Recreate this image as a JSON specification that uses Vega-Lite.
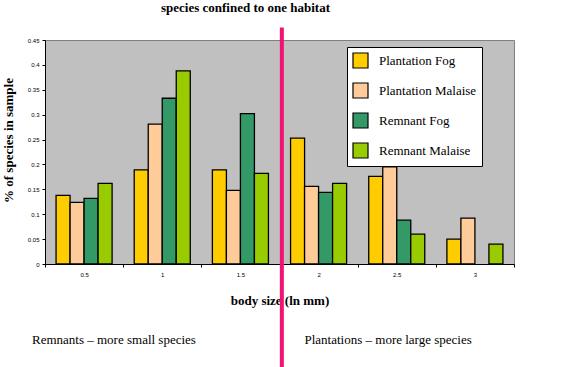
{
  "$schema": "https://vega.github.io/schema/vega-lite/v6.json",
  "width": 469,
  "height": 224,
  "autosize": {"type": "none"},
  "padding": {"left": 45, "top": 40, "right": 74, "bottom": 103},
  "background": "white",
  "title": {
    "text": "species confined to one habitat",
    "font": "Liberation Serif",
    "fontSize": 13,
    "fontWeight": "bold",
    "color": "black",
    "anchor": "middle",
    "frame": "group",
    "dx": -34,
    "offset": 11
  },
  "config": {
    "view": {"fill": "#c0c0c0", "stroke": "#808080", "strokeWidth": 1},
    "axis": {"domainColor": "black", "tickColor": "black", "grid": false, "labelColor": "black", "titleColor": "black", "labelOverlap": false},
    "axisY": {
      "values": [0, 0.05, 0.1, 0.15, 0.2, 0.25, 0.3, 0.35, 0.4, 0.45],
      "tickCount": 12,
      "format": "~g", "tickSize": 3, "labelPadding": 3, "labelOverlap": false,
      "labelFont": "Liberation Sans", "labelFontSize": 6,
      "titleFont": "Liberation Serif", "titleFontSize": 13, "titleFontWeight": "bold",
      "titleAngle": -90, "titleBaseline": "middle", "titleAlign": "center",
      "titleX": -37, "titleY": 100
    },
    "axisX": {
      "labelAngle": 0, "tickBand": "extent", "tickSize": 3, "labelPadding": 4,
      "labelFont": "Liberation Sans", "labelFontSize": 6,
      "titleFont": "Liberation Serif", "titleFontSize": 13, "titleFontWeight": "bold",
      "titleBaseline": "middle", "titleY": 36
    },
    "legend": {
      "orient": "none",
      "legendX": 302,
      "legendY": 7,
      "fillColor": "white",
      "strokeColor": "black",
      "padding": 5,
      "symbolType": "square",
      "symbolSize": 225,
      "symbolStrokeColor": "black",
      "symbolStrokeWidth": 1.2,
      "labelFont": "Liberation Serif",
      "labelFontSize": 13,
      "labelColor": "black",
      "labelOffset": 10,
      "rowPadding": 9
    }
  },
  "layer": [
    {
      "data": {"values": [
        {"size": "0.5", "series": "Plantation Fog", "value": 0.138},
        {"size": "0.5", "series": "Plantation Malaise", "value": 0.124},
        {"size": "0.5", "series": "Remnant Fog", "value": 0.132},
        {"size": "0.5", "series": "Remnant Malaise", "value": 0.162},
        {"size": "1", "series": "Plantation Fog", "value": 0.189},
        {"size": "1", "series": "Plantation Malaise", "value": 0.281},
        {"size": "1", "series": "Remnant Fog", "value": 0.333},
        {"size": "1", "series": "Remnant Malaise", "value": 0.388},
        {"size": "1.5", "series": "Plantation Fog", "value": 0.189},
        {"size": "1.5", "series": "Plantation Malaise", "value": 0.148},
        {"size": "1.5", "series": "Remnant Fog", "value": 0.302},
        {"size": "1.5", "series": "Remnant Malaise", "value": 0.182},
        {"size": "2", "series": "Plantation Fog", "value": 0.253},
        {"size": "2", "series": "Plantation Malaise", "value": 0.156},
        {"size": "2", "series": "Remnant Fog", "value": 0.144},
        {"size": "2", "series": "Remnant Malaise", "value": 0.162},
        {"size": "2.5", "series": "Plantation Fog", "value": 0.176},
        {"size": "2.5", "series": "Plantation Malaise", "value": 0.195},
        {"size": "2.5", "series": "Remnant Fog", "value": 0.088},
        {"size": "2.5", "series": "Remnant Malaise", "value": 0.060},
        {"size": "3", "series": "Plantation Fog", "value": 0.050},
        {"size": "3", "series": "Plantation Malaise", "value": 0.092},
        {"size": "3", "series": "Remnant Malaise", "value": 0.040}
      ]},
      "mark": {"type": "bar", "stroke": "black", "strokeWidth": 1.3},
      "encoding": {
        "x": {
          "field": "size", "type": "nominal", "title": "body size (ln mm)",
          "scale": {"domain": ["0.5", "1", "1.5", "2", "2.5", "3"], "paddingInner": 0, "paddingOuter": 0}
        },
        "xOffset": {
          "field": "series", "type": "nominal",
          "scale": {"paddingInner": 0, "paddingOuter": 0.79}
        },
        "y": {
          "field": "value", "type": "quantitative", "title": "% of species in sample",
          "scale": {"domain": [0, 0.45], "nice": false, "zero": true},
          "axis": {"tickCount": 12, "values": [0, 0.05, 0.1, 0.15, 0.2, 0.25, 0.3, 0.35, 0.4, 0.45], "labelOverlap": false}
        },
        "color": {
          "field": "series", "type": "nominal", "title": null,
          "scale": {
            "domain": ["Plantation Fog", "Plantation Malaise", "Remnant Fog", "Remnant Malaise"],
            "range": ["#ffcc00", "#ffcc99", "#339966", "#99cc00"]
          }
        }
      }
    },
    {
      "data": {"values": [{"size": "2", "top": 0.475, "bottom": -0.21}]},
      "mark": {"type": "rule", "color": "#f01470", "strokeWidth": 4},
      "encoding": {
        "x": {"field": "size", "type": "nominal", "bandPosition": 0.03, "title": "body size (ln mm)"},
        "y": {"field": "top", "type": "quantitative", "title": "% of species in sample"},
        "y2": {"field": "bottom"}
      }
    },
    {
      "data": {"values": [{"size": "0.5", "label": "Remnants – more small species", "pos": -0.153}]},
      "mark": {"type": "text", "align": "left", "baseline": "middle", "dx": -13, "font": "Liberation Serif", "fontSize": 13, "color": "black"},
      "encoding": {
        "x": {"field": "size", "type": "nominal", "bandPosition": 0, "title": "body size (ln mm)"},
        "y": {"field": "pos", "type": "quantitative", "title": "% of species in sample"},
        "text": {"field": "label"}
      }
    },
    {
      "data": {"values": [{"size": "2", "label": "Plantations – more large species", "pos": -0.153}]},
      "mark": {"type": "text", "align": "left", "baseline": "middle", "dx": 25, "font": "Liberation Serif", "fontSize": 13, "color": "black"},
      "encoding": {
        "x": {"field": "size", "type": "nominal", "bandPosition": 0, "title": "body size (ln mm)"},
        "y": {"field": "pos", "type": "quantitative", "title": "% of species in sample"},
        "text": {"field": "label"}
      }
    }
  ]
}
